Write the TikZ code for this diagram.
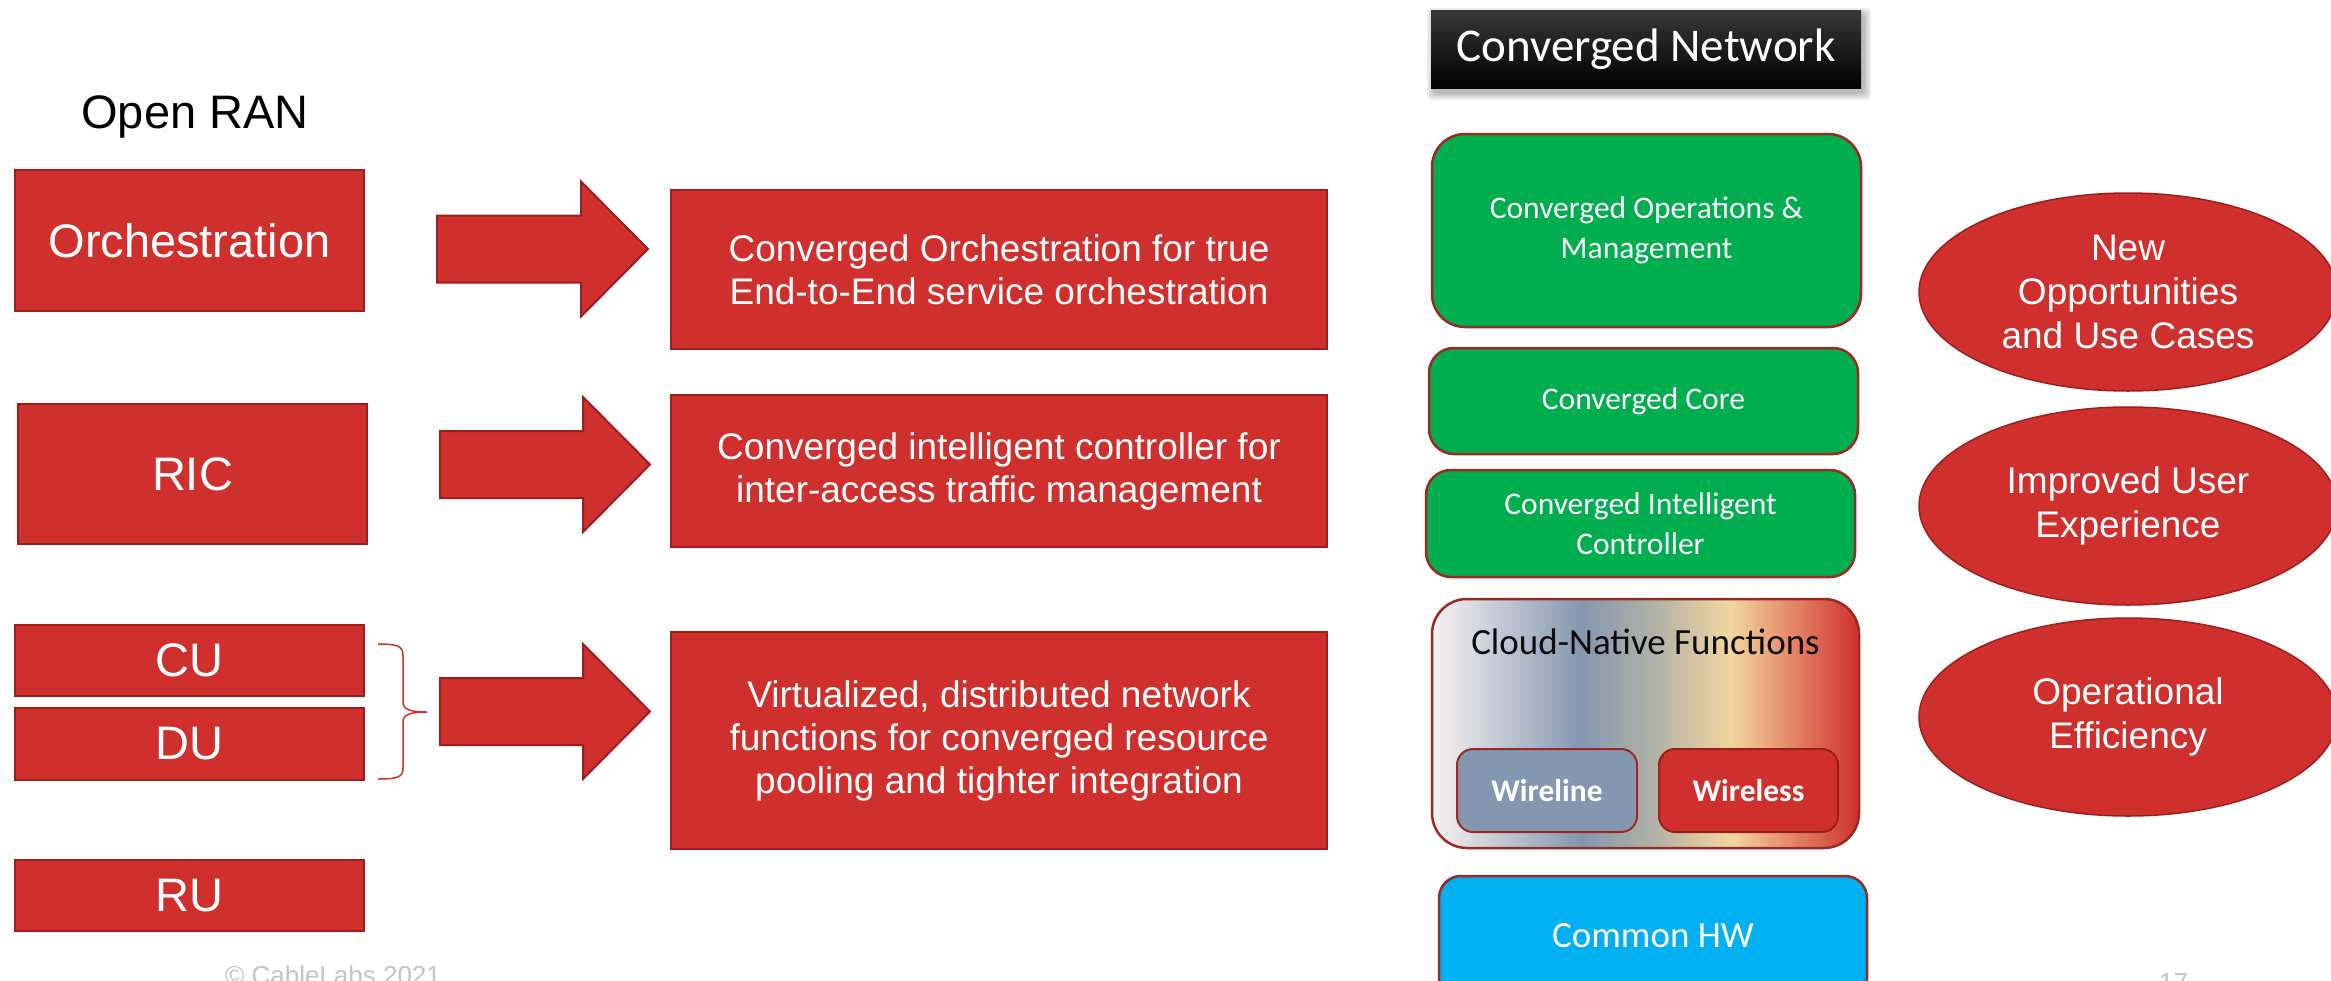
\documentclass[tikz,border=0pt]{standalone}
\usepackage{fontspec}
\setmainfont{Liberation Sans}
\newfontfamily\calfont{Carlito}
\usetikzlibrary{shapes.geometric}
\definecolor{rfill}{HTML}{D0302D}
\definecolor{rbord}{HTML}{9E1E1E}
\definecolor{gfill}{HTML}{00AE4F}
\definecolor{gbord}{HTML}{9B2A24}
\definecolor{cfill}{HTML}{00B0F0}
\definecolor{wlfill}{HTML}{8497B0}
\definecolor{cg0}{RGB}{249,242,242}
\definecolor{cg1}{RGB}{132,151,176}
\definecolor{cg2}{RGB}{178,178,166}
\definecolor{cg3}{RGB}{243,214,160}
\definecolor{cg4}{RGB}{228,130,100}
\definecolor{cg5}{RGB}{208,48,45}
\definecolor{foot}{HTML}{C4C4C4}
\pgfdeclarehorizontalshading{cloudgrad}{100bp}{color(0bp)=(cg0); color(25bp)=(cg0); color(42.5bp)=(cg1); color(51bp)=(cg2); color(60bp)=(cg3); color(67.5bp)=(cg4); color(75bp)=(cg5); color(100bp)=(cg5)}
\newcommand\fbig{\fontsize{47}{56}\selectfont}
\newcommand\fmid{\fontsize{37}{43}\selectfont}
\newcommand\fell{\fontsize{37}{44}\selectfont}
\newcommand\fcal{\calfont\fontsize{31.5}{39.5}\selectfont}
\newcommand\fcalb{\calfont\bfseries\fontsize{31.5}{39.5}\selectfont}
\newcommand\fcalm{\calfont\fontsize{37}{44}\selectfont}
\newcommand\fcalt{\calfont\fontsize{47}{56}\selectfont}
\newcommand\ffoot{\fontsize{26}{30}\selectfont}
\tikzset{
  redbox/.style={draw=rbord, fill=rfill, line width=2.5pt, text=white, inner sep=0pt, align=center},
  leftbox/.style={redbox, minimum width=349pt, font=\fbig},
  midbox/.style={redbox, minimum width=656pt, font=\fmid},
  greenbox/.style={draw=gbord, fill=gfill, line width=2.5pt, text=white, inner sep=0pt, align=center, minimum width=429pt, font=\fcal},
  subbox/.style={line width=2pt, text=white, inner sep=0pt, align=center, minimum width=180pt, minimum height=83pt, rounded corners=16pt, font=\fcalb},
  benefit/.style={ellipse, draw=rbord, fill=rfill, line width=1.5pt, text=white, inner sep=0pt, align=center, minimum width=418pt, minimum height=198pt, font=\fell},
  blockarrow/.style={draw=rbord, fill=rfill, line width=2pt, line join=miter},
  brace/.style={draw=rfill, line width=1.5pt},
  foottext/.style={text=foot, inner sep=0pt, font=\ffoot},
  softshadow/.style={fill=black, opacity=0.07, rounded corners=4pt}
}
\begin{document}
\begin{tikzpicture}[x=1pt,y=-1pt]
\useasboundingbox (0,0) rectangle (2331,980);
\fill[white] (0,0) rectangle (2331,980);
\clip (0,0) rectangle (2331,980);

% left column
\node[anchor=base, inner sep=0pt, font=\fbig] (oran) at (195,128) {Open RAN};
\node[leftbox, minimum height=141pt] (orch) at (189.5,240.5) {Orchestration};
\node[leftbox, minimum height=140pt] (ric) at (192.5,474) {RIC};
\node[leftbox, minimum height=71pt] (cu) at (189.5,660.5) {CU};
\node[leftbox, minimum height=72pt] (du) at (189.5,744) {DU};
\node[leftbox, minimum height=71pt] (ru) at (189.5,895.5) {RU};

% brace
\draw[brace] (378,644) .. controls (398,644) and (403,646) .. (403,656) -- (403,702) .. controls (403,709) and (409,712) .. (427,712) .. controls (409,712) and (403,715) .. (403,722) -- (403,768) .. controls (403,777) and (398,779) .. (378,779);

% block arrows
\draw[blockarrow] (437,249) ++(0,-33.5) -- ++(144,0) -- ++(0,-34) -- ++(67,67.5) -- ++(-67,67.5) -- ++(0,-34) -- ++(-144,0) -- cycle;
\draw[blockarrow] (440,464.5) ++(0,-33.5) -- ++(143,0) -- ++(0,-34) -- ++(67,67.5) -- ++(-67,67.5) -- ++(0,-34) -- ++(-143,0) -- cycle;
\draw[blockarrow] (440,711.5) ++(0,-33.5) -- ++(143,0) -- ++(0,-34) -- ++(67,67.5) -- ++(-67,67.5) -- ++(0,-34) -- ++(-143,0) -- cycle;

% middle column
\node[midbox, minimum height=159pt] (m1) at (999,269.5) {Converged Orchestration for true\\End-to-End service orchestration};
\node[midbox, minimum height=152pt] (m2) at (999,471) {Converged intelligent controller for\\inter-access traffic management};
\node[midbox, minimum height=217pt] (m3) at (999,740.5) {Virtualized, distributed network\\functions for converged resource\\pooling and tighter integration};

% converged network column: soft shadow of the title box
\foreach \g in {1,3,5,7}{
  \fill[softshadow] (1431+3-\g,10+5-\g) rectangle (1861+3+\g,88+5+\g);
}
\node[top color=black!78!white, middle color=black, bottom color=black, text=white, inner sep=0pt, minimum width=430pt, minimum height=78pt, font=\fcalt] (title) at (1646,49) {Converged Network};
\node[greenbox, minimum height=193pt, rounded corners=33pt] (ops) at (1646.5,230.5) {Converged Operations \&\\Management};
\node[greenbox, minimum height=106pt, rounded corners=25pt] (core) at (1643.5,401) {Converged Core};
\node[greenbox, minimum height=107pt, rounded corners=25pt] (ctrl) at (1640.5,523.5) {Converged Intelligent\\Controller};
\node[draw=gbord, line width=2.5pt, shading=cloudgrad, rounded corners=35pt, inner sep=0pt, minimum width=427pt, minimum height=249pt] (cloud) at (1645.5,723.5) {};
\node[inner sep=0pt, text=black!95, font=\fcalm] (cloudt) at (1645.5,642) {Cloud-Native Functions};
\node[subbox, draw=gbord, fill=wlfill] (wl) at (1547,790.5) {Wireline};
\node[subbox, draw=rbord, fill=rfill, minimum width=179pt] (ws) at (1748.5,790.5) {Wireless};
\node[draw=gbord, fill=cfill, line width=2.5pt, rounded corners=22pt, inner sep=0pt, minimum width=428pt, minimum height=124pt, text=white, font=\fcalm] (hw) at (1653,938) {\raisebox{6pt}{Common HW}};

% benefits
\node[benefit] (e1) at (2128,292) {New\\Opportunities\\and Use Cases};
\node[benefit] (e2) at (2128,506) {Improved User\\Experience};
\node[benefit] (e3) at (2128,717) {Operational\\Efficiency};

% footer
\node[foottext, anchor=base west] (copy) at (225,984) {© CableLabs 2021};
\node[foottext, anchor=base west] (pg) at (2159,991) {17};
\end{tikzpicture}
\end{document}
